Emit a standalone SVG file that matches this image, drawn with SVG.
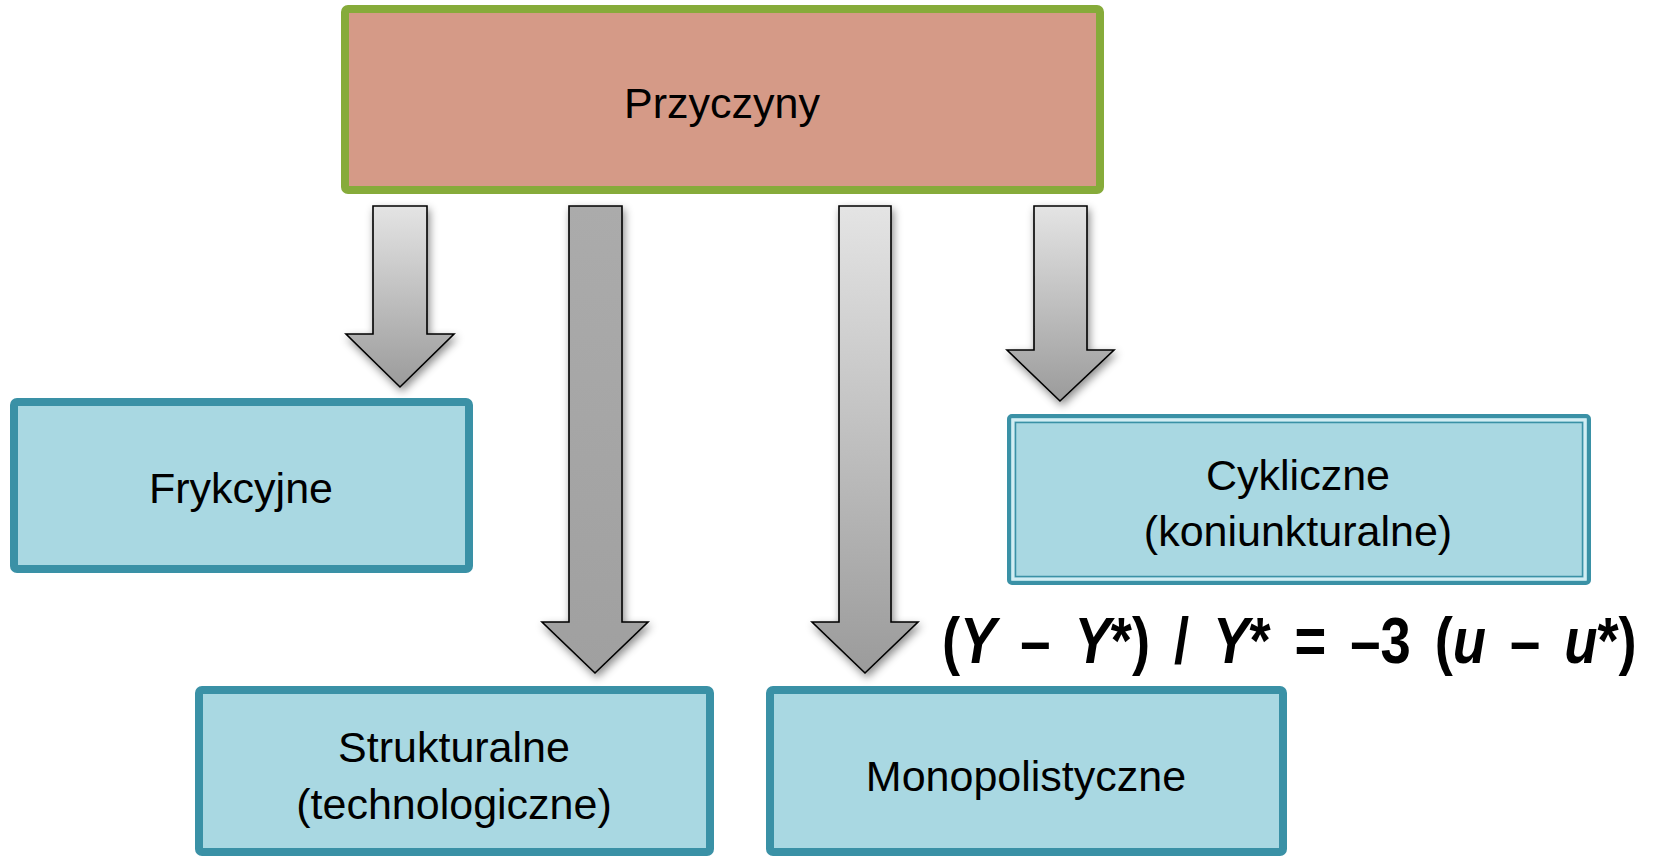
<svg xmlns="http://www.w3.org/2000/svg" width="1654" height="856" viewBox="0 0 1654 856">
  <defs>
    <linearGradient id="gLight" x1="0" y1="0" x2="0" y2="1">
      <stop offset="0" stop-color="#e4e4e4"/>
      <stop offset="1" stop-color="#9b9b9b"/>
    </linearGradient>
    <linearGradient id="gDark" x1="0" y1="0" x2="0" y2="1">
      <stop offset="0" stop-color="#ababab"/>
      <stop offset="1" stop-color="#a0a0a0"/>
    </linearGradient>
    <filter id="shadow" x="-30%" y="-10%" width="160%" height="130%">
      <feDropShadow dx="2" dy="4" stdDeviation="4" flood-color="#000" flood-opacity="0.45"/>
    </filter>
  </defs>
  <style>
    .lbl { font-family: "Liberation Sans", Arial, sans-serif; font-size: 43px; fill: #000; text-anchor: middle; }
    .blue { fill: #a9d8e2; stroke: #3a91a6; stroke-width: 8; }
    .arrow { stroke: #000; stroke-width: 1.6; stroke-linejoin: miter; filter: url(#shadow); }
    .eq { font-family: "Liberation Sans", Arial, sans-serif; font-size: 64px; font-weight: bold; fill: #000; word-spacing: 10.4px; }
  </style>
  <rect width="1654" height="856" fill="#ffffff"/>

  <g id="connectors">
    <path class="arrow" fill="url(#gLight)" d="M373,206 H427 V334 H454 L400,387 L346,334 H373 Z"/>
    <path class="arrow" fill="url(#gDark)" d="M569,206 H622 V622 H648 L595,673 L542,622 H569 Z"/>
    <path class="arrow" fill="url(#gLight)" d="M839,206 H891 V622 H918 L865,673 L812,622 H839 Z"/>
    <path class="arrow" fill="url(#gLight)" d="M1034,206 H1087 V350 H1114 L1060,401 L1007,350 H1034 Z"/>
  </g>

  <g id="node-przyczyny">
    <rect x="345" y="9" width="755" height="181" rx="3" fill="#d59a87" stroke="#86ab3a" stroke-width="8"/>
    <text class="lbl" x="722" y="118">Przyczyny</text>
  </g>

  <g id="node-frykcyjne">
    <rect class="blue" x="14" y="402" width="455" height="167" rx="3"/>
    <text class="lbl" x="241" y="503">Frykcyjne</text>
  </g>

  <g id="node-cykliczne">
    <rect x="1009" y="416" width="580" height="167" rx="3" fill="#a9d8e2" stroke="#3a91a6" stroke-width="4"/>
    <rect x="1013" y="420" width="572" height="159" fill="none" stroke="#d2edf3" stroke-width="2.5"/>
    <rect x="1015.5" y="422.5" width="567" height="154" fill="none" stroke="#3a91a6" stroke-width="1.5"/>
    <text class="lbl" x="1298" y="490">Cykliczne</text>
    <text class="lbl" x="1298" y="546">(koniunkturalne)</text>
  </g>

  <g id="node-strukturalne">
    <rect class="blue" x="199" y="690" width="511" height="162" rx="3"/>
    <text class="lbl" x="454" y="762">Strukturalne</text>
    <text class="lbl" x="454" y="819">(technologiczne)</text>
  </g>

  <g id="node-monopolistyczne">
    <rect class="blue" x="770" y="690" width="513" height="162" rx="3"/>
    <text class="lbl" x="1026" y="791">Monopolistyczne</text>
  </g>

  <g id="equation">
    <text class="eq" transform="translate(942,663) scale(0.85,1)" x="0" y="0">(<tspan font-style="italic">Y</tspan> – <tspan font-style="italic">Y</tspan>*) / <tspan font-style="italic">Y</tspan>* = –3 (<tspan font-style="italic">u</tspan> – <tspan font-style="italic">u</tspan>*)</text>
  </g>
</svg>
